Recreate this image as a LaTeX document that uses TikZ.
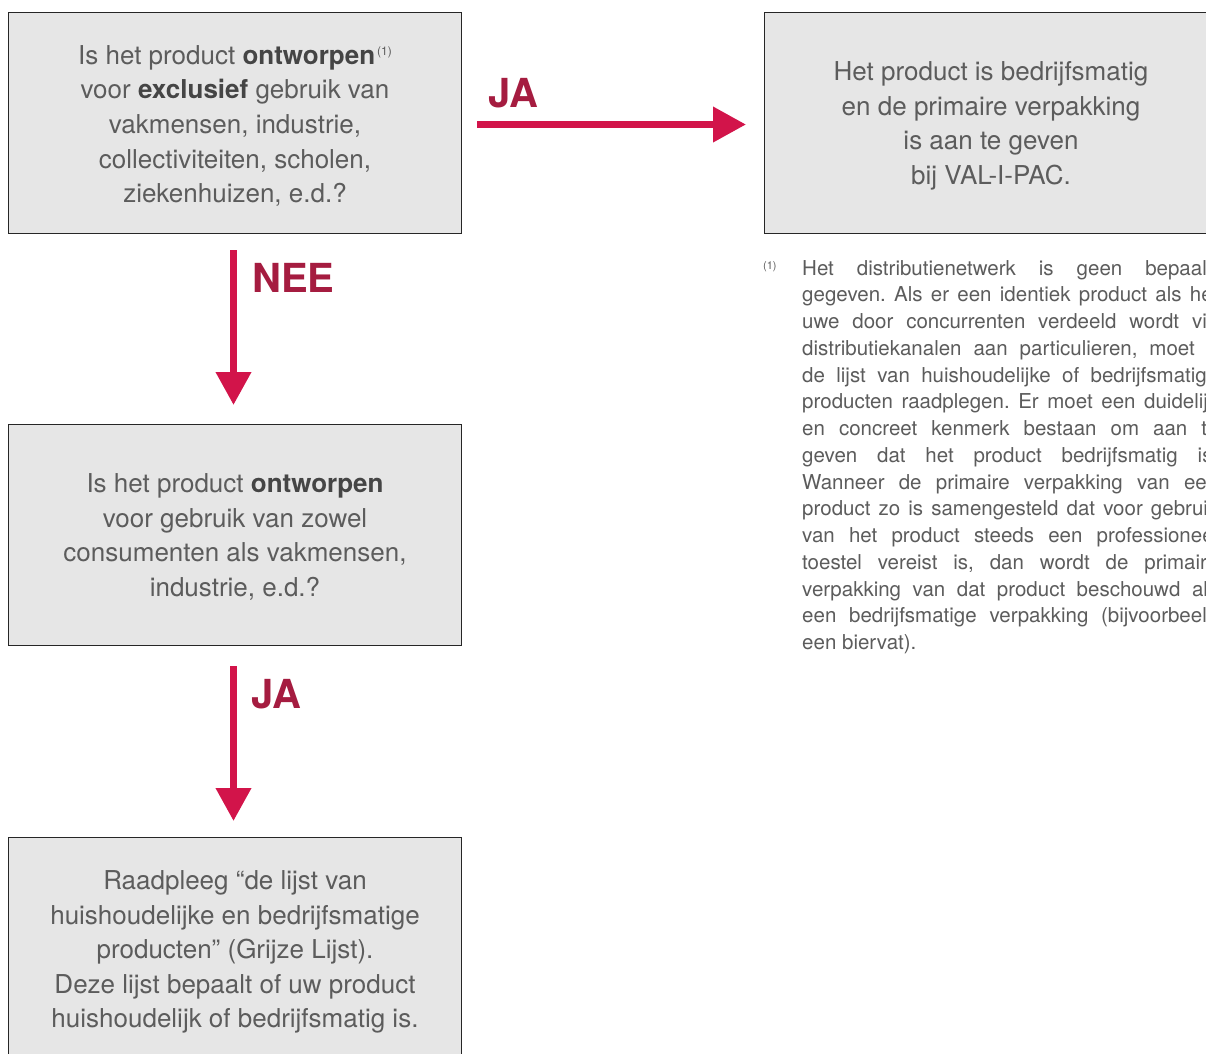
\documentclass[tikz,border=0pt]{standalone}
\usepackage{fontspec}
\setmainfont{TeX Gyre Heros}
\frenchspacing
\usetikzlibrary{arrows.meta}
\definecolor{boxfill}{HTML}{E6E6E6}
\definecolor{txt}{HTML}{5C5C5C}
\definecolor{boldtxt}{HTML}{454545}
\definecolor{arrowred}{HTML}{D2144A}
\definecolor{labelred}{HTML}{A51C40}
\newcommand\fnline[1]{\makebox[416pt][s]{#1}}
\newcommand\refmark{{\fontsize{12}{12}\selectfont\raisebox{9pt}{\,(1)}}}
\newcommand\bt[1]{\textcolor{boldtxt}{\textbf{#1}}}
\begin{document}
\begin{tikzpicture}[x=1pt,y=-1pt,
  box/.style={draw=black!85,line width=1pt,fill=boxfill,minimum width=453pt,minimum height=221pt,
    inner sep=0pt,anchor=north west},
  boxtext/.style={inner sep=0pt,align=center,text=txt,font=\fontsize{26}{34.6}\selectfont},
  flow/.style={draw=arrowred,line width=7pt,-{Triangle[width=34pt,length=33pt]}},
  lab/.style={text=labelred,font=\fontsize{40}{40}\selectfont\bfseries,inner sep=0pt,anchor=base west}]
\clip (0,0) rectangle (1206,1053);
\fill[white] (0,0) rectangle (1206,1053);
\node[box] (b1) at (8,12) {};
\node[box] (b2) at (764,12) {};
\node[box] (b3) at (8,424) {};
\node[box] (b4) at (8,837) {};
\node[boxtext] (t1) at ([yshift=-3pt]b1.center) {Is het product \bt{ontworpen}\refmark\\voor \bt{exclusief} gebruik van\\vakmensen, industrie,\\collectiviteiten, scholen,\\ziekenhuizen, e.d.?};
\node[boxtext] (t2) at ([yshift=-3pt]b2.center) {Het product is bedrijfsmatig\\en de primaire verpakking\\is aan te geven\\bij VAL-I-PAC.};
\node[boxtext] (t3) at ([yshift=-2pt]b3.center) {Is het product \bt{ontworpen}\\voor gebruik van zowel\\consumenten als vakmensen,\\industrie, e.d.?};
\node[boxtext] (t4) at ([yshift=-4pt]b4.center) {Raadpleeg “de lijst van\\huishoudelijke en bedrijfsmatige\\producten” (Grijze Lijst).\\Deze lijst bepaalt of uw product\\huishoudelijk of bedrijfsmatig is.};
\draw[flow] ([xshift=15pt,yshift=-1.5pt]b1.east) -- ([xshift=-18pt,yshift=-1.5pt]b2.west);
\draw[flow] ([xshift=-1.5pt,yshift=-16pt]b1.south) -- ([xshift=-1.5pt,yshift=19pt]b3.north);
\draw[flow] ([xshift=-1.5pt,yshift=-20pt]b3.south) -- ([xshift=-1.5pt,yshift=16pt]b4.north);
\node[lab] (ja1) at (488,107) {JA};
\node[lab] (nee) at (252,292) {NEE};
\node[lab] (ja2) at (251,708) {JA};
\node[anchor=north west,inner sep=0pt,text=txt,font=\fontsize{11}{11}\selectfont] (fnmark) at (763,261) {(1)};
\node[anchor=north west,inner sep=0pt,align=left,text=txt,font=\fontsize{20.5}{26.75}\selectfont] (fn) at (802,260) {%
\fnline{Het distributienetwerk is geen bepaald}\\
\fnline{gegeven. Als er een identiek product als het}\\
\fnline{uwe door concurrenten verdeeld wordt via}\\
\fnline{distributiekanalen aan particulieren, moet u}\\
\fnline{de lijst van huishoudelijke of bedrijfsmatige}\\
\fnline{producten raadplegen. Er moet een duidelijk}\\
\fnline{en concreet kenmerk bestaan om aan te}\\
\fnline{geven dat het product bedrijfsmatig is.}\\
\fnline{Wanneer de primaire verpakking van een}\\
\fnline{product zo is samengesteld dat voor gebruik}\\
\fnline{van het product steeds een professioneel}\\
\fnline{toestel vereist is, dan wordt de primaire}\\
\fnline{verpakking van dat product beschouwd als}\\
\fnline{een bedrijfsmatige verpakking (bijvoorbeeld}\\
een biervat).};
\end{tikzpicture}
\end{document}
